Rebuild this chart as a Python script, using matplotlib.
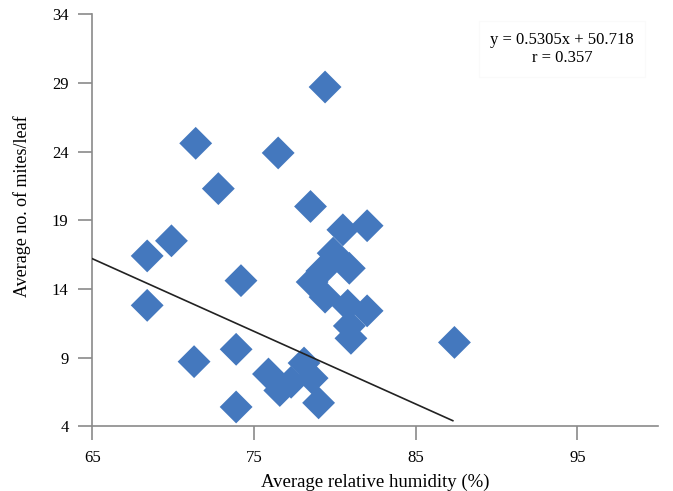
import matplotlib
matplotlib.use("Agg")
import matplotlib.pyplot as plt

plt.rcParams['font.family'] = ['Liberation Serif', 'DejaVu Serif']

# data
humidity = [79.4, 71.4, 76.5, 72.8, 78.5, 69.9, 68.4, 80.5, 82.0,
             68.4, 74.2, 71.3, 73.9, 73.9, 87.4, 79.0,
             79.9, 80.9, 78.6, 79.4, 80.8, 82.0, 80.9, 81.0, 79.2,
             75.9, 76.6, 77.3, 78.1, 78.6]
mites = [28.7, 24.6, 23.9, 21.3, 20.0, 17.5, 16.4, 18.3, 18.6,
         12.8, 14.6, 8.7, 9.6, 5.4, 10.1, 5.7,
         16.6, 15.5, 14.5, 13.4, 12.8, 12.4, 11.3, 10.4, 15.3,
         7.8, 6.6, 7.2, 8.6, 7.5]

# fitted line as drawn
line_x = [65, 87.3]
line_y = [16.2, 4.4]

fig = plt.figure(figsize=(6.73, 4.91), dpi=100)
ax = fig.add_axes([0.137, 0.132, 0.841, 0.839])

ax.scatter(humidity, mites, marker='D', s=280, color='#4478BE', edgecolors='none', zorder=2)
ax.plot(line_x, line_y, color='#222222', lw=1.2, zorder=3)

ax.set_xlim(65, 100)
ax.set_ylim(4, 34)
ax.set_xticks([65, 75, 85, 95])
ax.set_yticks([4, 9, 14, 19, 24, 29, 34])

for s in ['top', 'right']:
    ax.spines[s].set_visible(False)
for s in ['left', 'bottom']:
    ax.spines[s].set_color('#8a8a8a')
    ax.spines[s].set_linewidth(1.2)
ax.tick_params(direction='out', length=10, width=1.2, color='#8a8a8a',
               labelsize=12, pad=7)

ax.set_xlabel('Average relative humidity (%)', fontsize=13.5)
ax.set_ylabel('Average no. of mites/leaf', fontsize=13)
ax.xaxis.set_label_coords(0.5, -0.115)
ax.yaxis.set_label_coords(-0.108, 0.535)

ax.text(0.83, 0.915, 'y = 0.5305x + 50.718\nr = 0.357', transform=ax.transAxes,
        ha='center', va='center', fontsize=12, linespacing=1.15,
        bbox=dict(facecolor='white', edgecolor='#fafafa', pad=8))

fig.savefig('out.png', dpi=100)
